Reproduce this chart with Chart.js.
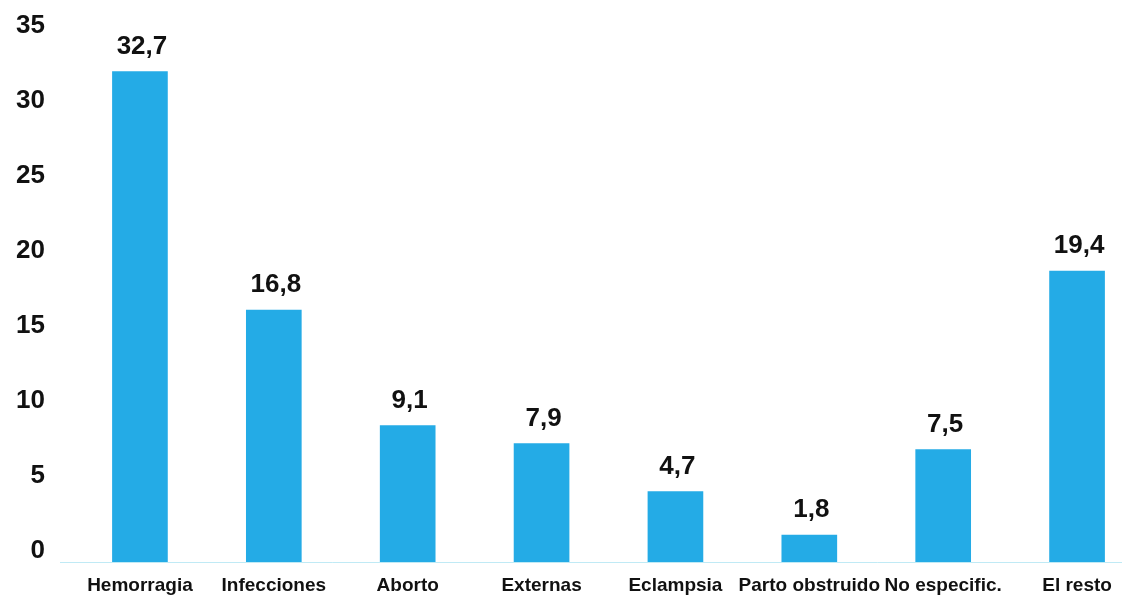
<!DOCTYPE html>
<html>
<head>
<meta charset="utf-8">
<script src="https://cdn.jsdelivr.net/npm/chart.js@4"></script>
<style>
  html, body { margin: 0; padding: 0; background: #fff; overflow: hidden; }
  #clip { width: 1122px; height: 595px; overflow: hidden; }
  #wrap { width: 1150px; height: 595px; }
</style>
</head>
<body>
<div id="clip"><div id="wrap"><canvas id="chart"></canvas></div></div>
<script>
var categories = ['Hemorragia', 'Infecciones', 'Aborto', 'Externas', 'Eclampsia', 'Parto obstruido', 'No especific.', 'El resto'];
var values = [32.7, 16.8, 9.1, 7.9, 4.7, 1.8, 7.5, 19.4];
var yTicks = [0, 5, 10, 15, 20, 25, 30, 35];

var FONT = '"Liberation Sans", Arial, sans-serif';

// value labels above each bar, decimal comma
var barLabels = {
    id: 'barLabels',
    afterDatasetsDraw: function (chart) {
        var c = chart.ctx;
        var meta = chart.getDatasetMeta(0);
        c.save();
        c.font = 'bold 26px ' + FONT;
        c.fillStyle = '#111';
        c.textAlign = 'center';
        c.textBaseline = 'middle';
        meta.data.forEach(function (bar, i) {
            var txt = values[i].toFixed(1).replace('.', ',');
            c.fillText(txt, bar.x + 2, bar.y - 25);
        });
        c.restore();
    }
};

// faint baseline across the whole width
var baseLine = {
    id: 'baseLine',
    beforeDatasetsDraw: function (chart) {
        var c = chart.ctx;
        var y = chart.scales.y.getPixelForValue(0) + 0.5;
        c.save();
        c.strokeStyle = 'rgba(150,220,238,0.6)';
        c.lineWidth = 1;
        c.beginPath();
        c.moveTo(60, y);
        c.lineTo(1150, y);
        c.stroke();
        c.restore();
    }
};

var ctx = document.getElementById('chart').getContext('2d');
var chart = new Chart(ctx, {
    type: 'bar',
    data: {
        labels: categories,
        datasets: [{
            data: values,
            backgroundColor: '#24abe6',
            barThickness: 55
        }]
    },
    options: {
        responsive: true,
        maintainAspectRatio: false,
        animation: false,
        layout: { padding: { top: 37, left: 0, right: 6, bottom: 0 } },
        plugins: {
            legend: { display: false },
            tooltip: { enabled: false }
        },
        scales: {
            x: {
                afterFit: function (s) { s.height = 33; },
                grid: { display: false, drawTicks: false },
                border: { display: false },
                ticks: {
                    padding: 12,
                    color: '#111',
                    maxRotation: 0,
                    autoSkip: false,
                    font: { family: FONT, size: 19, weight: 'bold' }
                }
            },
            y: {
                min: 0,
                max: 35,
                afterFit: function (s) { s.width = 73; },
                afterBuildTicks: function (s) {
                    s.ticks = yTicks.map(function (v) { return { value: v }; });
                },
                grid: { display: false, drawTicks: true, tickLength: 24 },
                border: { display: false },
                ticks: {
                    padding: 4,
                    labelOffset: -11,
                    color: '#111',
                    font: { family: FONT, size: 26, weight: 'bold' }
                }
            }
        }
    },
    plugins: [baseLine, barLabels]
});
</script>
</body>
</html>
